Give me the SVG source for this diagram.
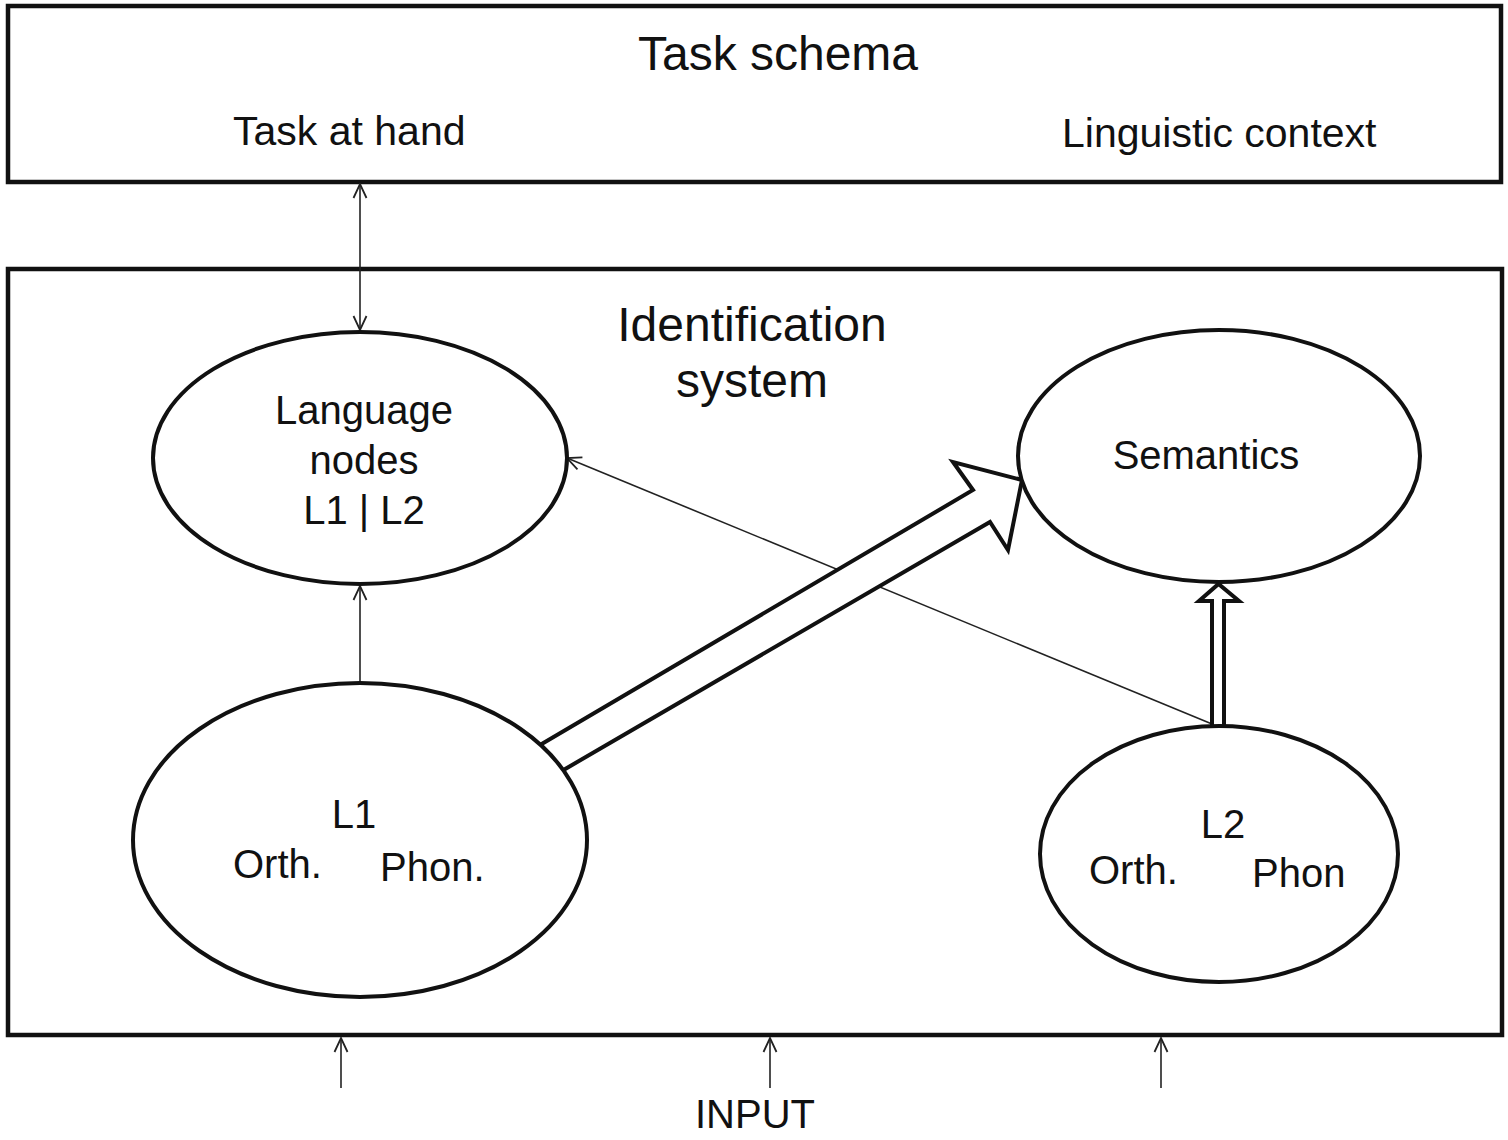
<svg xmlns="http://www.w3.org/2000/svg" width="1508" height="1140" viewBox="0 0 1508 1140">
<defs>
<style>
.box{fill:none;stroke:#111;stroke-width:4.5}
.node{fill:#fff;stroke:#111;stroke-width:4}
.t{font-family:"Liberation Sans",Arial,sans-serif;fill:#111}
.thin{fill:none;stroke:#222;stroke-width:1.6}
.hollow{fill:#fff;stroke:#111;stroke-width:4;stroke-linejoin:miter}
</style>
<marker id="ah" viewBox="0 0 16 16" refX="15" refY="8" markerWidth="16" markerHeight="16" markerUnits="userSpaceOnUse" orient="auto-start-reverse">
<path d="M1,1.5 L15,8 L1,14.5" fill="none" stroke="#222" stroke-width="1.8"/>
</marker>
</defs>
<rect width="1508" height="1140" fill="#fff"/>

<g id="task-schema">
<rect class="box" x="8" y="6" width="1493" height="176"/>
<text class="t" x="778" y="70" font-size="48" text-anchor="middle">Task schema</text>
<text class="t" x="233" y="145" font-size="41">Task at hand</text>
<text class="t" x="1062" y="147" font-size="41">Linguistic context</text>
</g>

<g id="identification-system">
<rect class="box" x="8" y="269" width="1494" height="766"/>
<text class="t" x="752" y="341" font-size="48" text-anchor="middle">Identification</text>
<text class="t" x="752" y="397" font-size="48" text-anchor="middle">system</text>
</g>

<g id="connectors">
<line class="thin" x1="360" y1="184" x2="360" y2="330" marker-start="url(#ah)" marker-end="url(#ah)"/>
<line class="thin" x1="360" y1="683" x2="360" y2="586" marker-end="url(#ah)"/>
<line class="thin" x1="1212" y1="724" x2="567" y2="458" marker-end="url(#ah)"/>
<line class="thin" x1="341" y1="1088" x2="341" y2="1038" marker-end="url(#ah)"/>
<line class="thin" x1="770" y1="1088" x2="770" y2="1038" marker-end="url(#ah)"/>
<line class="thin" x1="1161" y1="1088" x2="1161" y2="1038" marker-end="url(#ah)"/>
<path class="hollow" d="M540,745 L973,490 L953,462 L1022,480 L1008,550 L990,522 L560,772 Z"/>
<path class="hollow" d="M1212,725 L1212,601 L1199,601 L1218.5,584 L1239,601 L1224,601 L1224,725"/>
</g>

<g id="language-nodes">
<ellipse class="node" cx="360" cy="458" rx="207" ry="126"/>
<text class="t" x="364" y="424" font-size="40" text-anchor="middle">Language</text>
<text class="t" x="364" y="474" font-size="40" text-anchor="middle">nodes</text>
<text class="t" x="364" y="524" font-size="40" text-anchor="middle">L1 | L2</text>
</g>

<g id="semantics">
<ellipse class="node" cx="1219" cy="456" rx="201" ry="126"/>
<text class="t" x="1206" y="469" font-size="40" text-anchor="middle">Semantics</text>
</g>

<g id="l1">
<ellipse class="node" cx="360" cy="840" rx="227" ry="157"/>
<text class="t" x="354" y="828" font-size="40" text-anchor="middle">L1</text>
<text class="t" x="233" y="878" font-size="40">Orth.</text>
<text class="t" x="380" y="881" font-size="40">Phon.</text>
</g>

<g id="l2">
<ellipse class="node" cx="1219" cy="854" rx="179" ry="128"/>
<text class="t" x="1223" y="838" font-size="40" text-anchor="middle">L2</text>
<text class="t" x="1089" y="884" font-size="40">Orth.</text>
<text class="t" x="1252" y="887" font-size="40">Phon</text>
</g>

<g id="input">
<text class="t" x="755" y="1128" font-size="40" text-anchor="middle">INPUT</text>
</g>
</svg>
